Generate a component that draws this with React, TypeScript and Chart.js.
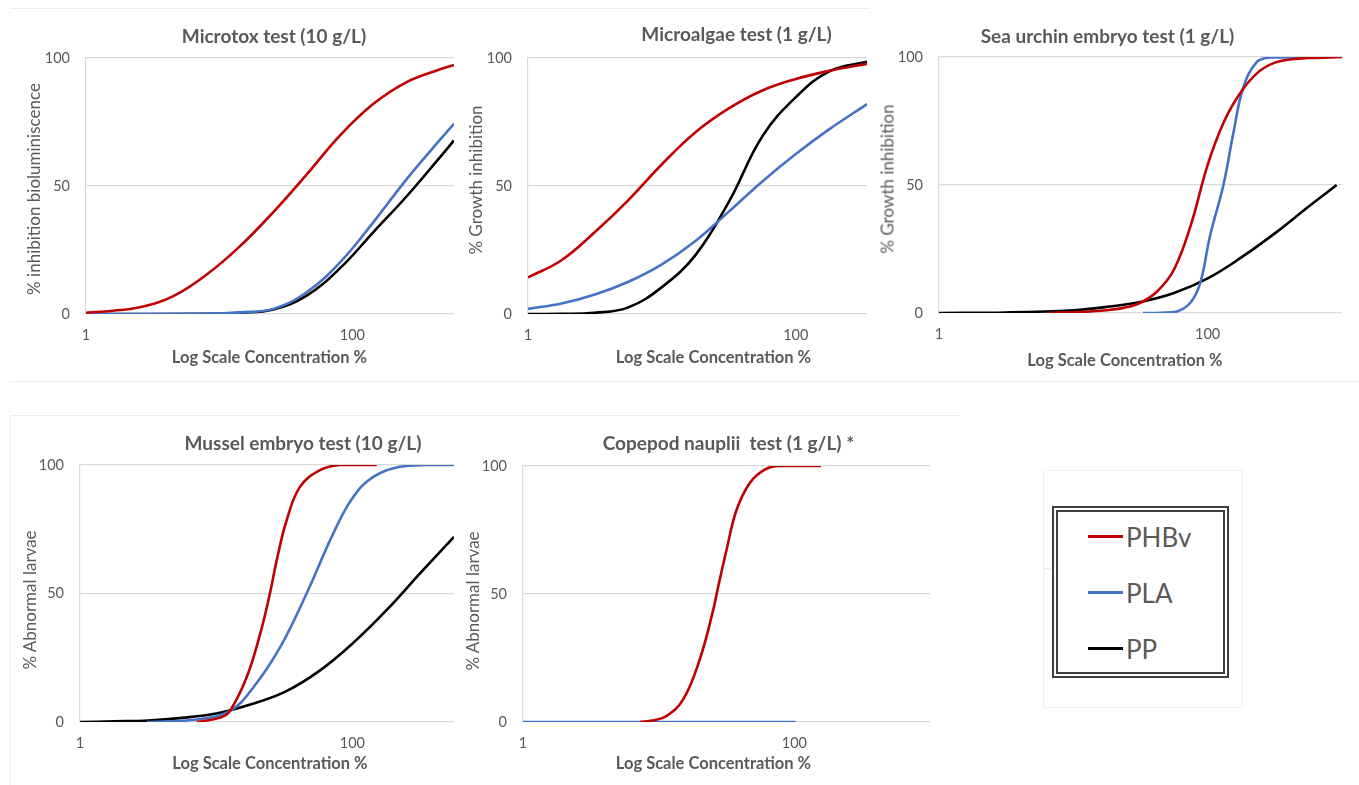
import React, { useEffect, useRef } from 'react';
import { Chart, registerables } from 'chart.js';

Chart.register(...registerables);

// ---------- data ----------
const seriesNames = ['PHBv', 'PLA', 'PP'];
const seriesColors = ['#C00000', '#4472C4', '#000000'];
const xTickValues = [1, 100];
const yTickStep = 50;

// Microtox test (10 g/L)
const microtoxPHBvConc = [1, 1.6, 2.54, 4.53, 8.06, 14.35, 25.5, 45.4, 80.9, 144, 256, 456, 580];
const microtoxPHBv = [0.5, 1.3, 2.6, 7.0, 15.4, 26.5, 39.8, 54.5, 69.8, 82.1, 90.6, 95.6, 97.3];
const microtoxPLAConc = [1, 8.06, 14.35, 25.5, 45.4, 80.9, 144, 256, 456, 580];
const microtoxPLA = [0, 0.1, 0.65, 2.0, 8.5, 20.2, 35.9, 52.7, 68.1, 74.3];
const microtoxPPConc = [1, 8.06, 14.35, 25.5, 45.4, 80.9, 144, 256, 456, 580];
const microtoxPP = [0, 0.1, 0.5, 1.8, 7.2, 17.9, 32, 46, 61.3, 67.8];

// Microalgae test (1 g/L)
const algaeConc = [1, 1.78, 3.16, 5.62, 10, 17.8, 31.6, 56.2, 100, 178, 340];
const algaePHBv = [14.3, 21, 32, 44.5, 58.5, 71, 80.3, 87.3, 91.8, 95, 97.7];
const algaePLA = [2, 4.1, 7.6, 12.6, 19.4, 28.5, 40, 51.8, 62.5, 72.2, 82];
const algaePP = [0, 0.05, 0.45, 2.6, 10.5, 23, 43.8, 69.4, 84.7, 94.8, 98.5];

// Sea urchin embryo test (1 g/L)
const urchinPHBvConc = [6.5, 10, 13.3, 17.8, 23.7, 31.6, 42.2, 56.2, 75, 100, 133, 178, 237, 316, 422, 562, 1000];
const urchinPHBv = [0, 0.3, 0.6, 1.1, 2.0, 4.0, 8.5, 17, 34.4, 57.9, 75, 86.5, 94, 97.8, 99.1, 99.6, 100];
const urchinPLAConc = [33, 45, 59, 74, 88, 104, 131, 155, 184, 232, 291, 515];
const urchinPLA = [0, 0.1, 0.6, 3.9, 11.7, 30, 50, 70, 88, 98, 99.8, 100];
const urchinPPConc = [1, 3.16, 10, 17.8, 31.6, 56.2, 100, 178, 316, 562, 913];
const urchinPP = [0, 0.2, 1.1, 2.4, 4.3, 7.8, 13.5, 21.7, 31.1, 41.5, 50];

// Mussel embryo test (10 g/L)
const musselPHBvConc = [7.2, 10.7, 12.6, 16.7, 21, 24.8, 27.8, 32.9, 41.2, 57.8, 81, 151];
const musselPHBv = [0, 1.7, 4.3, 17.3, 34.2, 50, 62.9, 78.5, 91.5, 98, 100, 100];
const musselPLAConc = [3.1, 7.2, 12.6, 18.7, 29.4, 46.1, 72.4, 101.6, 142.5, 224, 351, 557];
const musselPLA = [0, 1, 4.3, 13.4, 29, 50, 73.4, 87.6, 95.4, 99.3, 100, 100];
const musselPPConc = [1, 1.78, 3.16, 5.62, 10, 17.8, 31.6, 56.2, 100, 178, 316, 557];
const musselPP = [0, 0.25, 0.6, 1.6, 3.3, 6.8, 11.6, 19.6, 30.5, 43.5, 58, 72];

// Copepod nauplii test (1 g/L) *
const copepodPHBvConc = [7.3, 9, 11.4, 15.2, 20.1, 25.3, 27.5, 31.7, 37.6, 47.1, 60, 74, 157];
const copepodPHBv = [0, 0.6, 2.3, 8.9, 24.5, 44, 53, 67.4, 83, 93.5, 98.5, 100, 100];
const copepodPLAConc = [1, 102];
const copepodPLA = [0, 0];

// ---------- styling ----------
const FONT = 'Lato, "Open Sans", sans-serif';
const TEXT = '#595959';
const GRID = '#d9d9d9';
const YW = 60;
const PT = 26;
const PR = 12;
const XH = 40;

type Series = { name: string; color: string; x: number[]; y: number[] };
type Area = { l: number; r: number; t: number; b: number };

function mk(idx: number, x: number[], y: number[]): Series {
  return { name: seriesNames[idx], color: seriesColors[idx], x, y };
}

function LogPanel({ area, xMax, series }: { area: Area; xMax: number; series: Series[] }) {
  const ref = useRef<HTMLCanvasElement>(null);
  const w = YW + (area.r - area.l) + PR;
  const h = PT + (area.b - area.t) + XH;
  useEffect(() => {
    const chart = new Chart(ref.current as HTMLCanvasElement, {
      type: 'line',
      data: {
        datasets: series.map((s) => ({
          label: s.name,
          data: s.x.map((x, i) => ({ x, y: s.y[i] })),
          borderColor: s.color,
          backgroundColor: s.color,
          borderWidth: 2.6,
          pointRadius: 0,
          fill: false,
          tension: 0.4,
        })),
      },
      options: {
        animation: false,
        responsive: false,
        maintainAspectRatio: false,
        events: [],
        layout: { padding: { top: PT, right: PR, left: 0, bottom: 0 } },
        plugins: { legend: { display: false }, tooltip: { enabled: false }, title: { display: false } },
        scales: {
          x: {
            type: 'logarithmic',
            min: 1,
            max: xMax,
            grid: { display: false, drawTicks: false },
            border: { display: false },
            ticks: {
              padding: 13,
              autoSkip: false,
              maxRotation: 0,
              color: TEXT,
              font: { family: FONT, size: 14.5 },
              callback: (v: any) => String(v),
            },
            afterBuildTicks: (s: any) => {
              s.ticks = xTickValues.map((v) => ({ value: v }));
            },
            afterFit: (s: any) => {
              s.height = XH;
            },
          },
          y: {
            min: 0,
            max: 100,
            grid: { color: GRID, lineWidth: 1.2, drawTicks: false },
            border: { display: true, color: GRID, width: 1.2 },
            ticks: {
              stepSize: yTickStep,
              padding: 16,
              color: TEXT,
              font: { family: FONT, size: 14.5 },
            },
            afterFit: (s: any) => {
              s.width = YW;
            },
          },
        },
      },
    } as any);
    return () => chart.destroy();
  }, []);
  return (
    <canvas
      ref={ref}
      width={w}
      height={h}
      style={{ position: 'absolute', left: area.l - YW, top: area.t - PT, width: w, height: h }}
    />
  );
}

const center: React.CSSProperties = {
  position: 'absolute',
  transform: 'translate(-50%, -50%)',
  whiteSpace: 'pre',
  color: TEXT,
  fontFamily: FONT,
  lineHeight: 1,
};

function Title({ text, x, y }: { text: string; x: number; y: number }) {
  return <div style={{ ...center, left: x, top: y, fontSize: 19, fontWeight: 700 }}>{text}</div>;
}
function XTitle({ text, x, y }: { text: string; x: number; y: number }) {
  return <div style={{ ...center, left: x, top: y, fontSize: 16.5, fontWeight: 700 }}>{text}</div>;
}
function YTitle({ text, x, y }: { text: string; x: number; y: number }) {
  return (
    <div style={{ ...center, left: x, top: y, fontSize: 17, transform: 'translate(-50%, -50%) rotate(-90deg)' }}>
      {text}
    </div>
  );
}

const xAxisTitle = 'Log Scale Concentration %';

export default function App() {
  const line = (l: number, t: number, w: number, h: number) => (
    <div style={{ position: 'absolute', left: l, top: t, width: w, height: h, background: '#ececec' }} />
  );
  return (
    <div style={{ position: 'absolute', left: 0, top: 0, width: 1359, height: 785, background: '#ffffff', overflow: 'hidden' }}>
      {line(10, 8, 860, 1)}
      {line(10, 381, 1349, 1)}
      {line(10, 415, 950, 1)}
      {line(10, 415, 1, 370)}
      <div style={{ position: 'absolute', left: 1043, top: 470, width: 200, height: 238, border: '1px solid #f0f0f0', boxSizing: 'border-box' }} />
      {line(1043, 568, 8, 1)}

      <LogPanel area={{ l: 86, r: 454, t: 58, b: 314 }} xMax={580}
        series={[mk(0, microtoxPHBvConc, microtoxPHBv), mk(1, microtoxPLAConc, microtoxPLA), mk(2, microtoxPPConc, microtoxPP)]} />
      <LogPanel area={{ l: 528, r: 867, t: 58, b: 314 }} xMax={340}
        series={[mk(0, algaeConc, algaePHBv), mk(1, algaeConc, algaePLA), mk(2, algaeConc, algaePP)]} />
      <LogPanel area={{ l: 939, r: 1342, t: 57, b: 313 }} xMax={1000}
        series={[mk(0, urchinPHBvConc, urchinPHBv), mk(1, urchinPLAConc, urchinPLA), mk(2, urchinPPConc, urchinPP)]} />
      <LogPanel area={{ l: 80, r: 454, t: 465, b: 722 }} xMax={557}
        series={[mk(0, musselPHBvConc, musselPHBv), mk(1, musselPLAConc, musselPLA), mk(2, musselPPConc, musselPP)]} />
      <LogPanel area={{ l: 523, r: 930, t: 466, b: 722 }} xMax={1000}
        series={[mk(0, copepodPHBvConc, copepodPHBv), mk(1, copepodPLAConc, copepodPLA)]} />

      <Title text="Microtox test (10 g/L)" x={274} y={35} />
      <Title text="Microalgae test (1 g/L)" x={736.5} y={33} />
      <Title text="Sea urchin embryo test (1 g/L)" x={1107.5} y={35} />
      <Title text="Mussel embryo test (10 g/L)" x={303} y={442} />
      <Title text="Copepod nauplii  test (1 g/L) *" x={728.5} y={442} />

      <YTitle text="% inhibition bioluminiscence" x={33} y={188.5} />
      <YTitle text="% Growth inhibition" x={475} y={180} />
      <YTitle text="% Growth inhibition" x={887} y={179} />
      <YTitle text="% Abnormal larvae" x={29} y={600} />
      <YTitle text="% Abnormal larvae" x={472} y={601} />

      <XTitle text={xAxisTitle} x={269.5} y={357} />
      <XTitle text={xAxisTitle} x={713.5} y={357} />
      <XTitle text={xAxisTitle} x={1125} y={360} />
      <XTitle text={xAxisTitle} x={270} y={763} />
      <XTitle text={xAxisTitle} x={713.5} y={763} />

      <div style={{ position: 'absolute', left: 1052, top: 506, width: 177, height: 172, border: '6px double #404040', boxSizing: 'border-box' }} />
      {seriesNames.map((n, i) => (
        <React.Fragment key={n}>
          <div style={{ position: 'absolute', left: 1088, top: 535 + i * 56, width: 35, height: 2.5, background: seriesColors[i] }} />
          <div style={{ ...center, transform: 'translate(0, -50%)', left: 1126, top: 537 + i * 56, fontSize: 26 }}>{n}</div>
        </React.Fragment>
      ))}
    </div>
  );
}
